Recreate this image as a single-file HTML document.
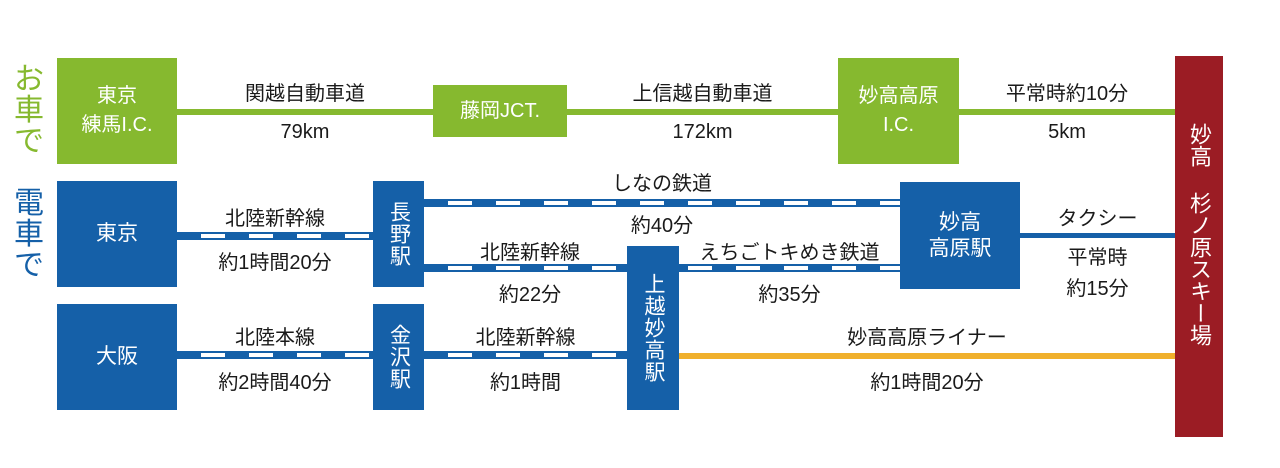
<!DOCTYPE html>
<html><head><meta charset="utf-8"><style>
body{margin:0;width:1280px;height:468px;background:#fff;position:relative;overflow:hidden;font-family:"Liberation Sans","Noto Sans CJK JP",sans-serif;color:#222}
div{position:absolute;box-sizing:border-box}
.g{background:#86b92f;color:#fff;display:flex;align-items:center;justify-content:center;text-align:center;font-size:20px;line-height:29px}
.b{background:#1560a8;color:#fff;display:flex;align-items:center;justify-content:center;text-align:center;font-size:21px;line-height:26px}
.v{writing-mode:vertical-rl;text-orientation:upright;letter-spacing:1px}
.rail{height:8px;border-top:2px solid #1560a8;border-bottom:2px solid #1560a8;background:repeating-linear-gradient(90deg,#1560a8 0 24px,#fff 24px 48px)}
.t{font-size:20px;text-align:center;white-space:nowrap;color:#1a1a1a}
</style></head><body>
<div style="left:12px;top:64px;font-size:30px;color:#86b92f;line-height:31px;width:34px;text-align:center">お<br>車<br>で</div>
<div style="left:12px;top:188px;font-size:30px;color:#1560a8;line-height:31px;width:34px;text-align:center">電<br>車<br>で</div>

<div style="left:177px;top:109px;width:1000px;height:6px;background:#86b92f"></div>
<div class="g" style="left:57px;top:58px;width:120px;height:106px">東京<br>練馬I.C.</div>
<div class="g" style="left:433px;top:85px;width:134px;height:52px">藤岡JCT.</div>
<div class="g" style="left:838px;top:58px;width:121px;height:106px">妙高高原<br>I.C.</div>
<div class="t" style="left:177px;top:77px;width:256px">関越自動車道</div>
<div class="t" style="left:177px;top:121px;width:256px">79km</div>
<div class="t" style="left:567px;top:77px;width:271px">上信越自動車道</div>
<div class="t" style="left:567px;top:121px;width:271px">172km</div>
<div class="t" style="left:959px;top:77px;width:216px">平常時約10分</div>
<div class="t" style="left:959px;top:121px;width:216px">5km</div>

<div class="rail" style="left:177px;top:232px;width:196px"></div>
<div class="rail" style="left:424px;top:199px;width:476px"></div>
<div class="rail" style="left:424px;top:264px;width:476px"></div>
<div class="rail" style="left:177px;top:351px;width:196px"></div>
<div class="rail" style="left:424px;top:351px;width:203px"></div>
<div style="left:1020px;top:233px;width:155px;height:5px;background:#1560a8"></div>
<div style="left:679px;top:353px;width:496px;height:6px;background:#f0b02c"></div>

<div class="b" style="left:57px;top:181px;width:120px;height:106px">東京</div>
<div class="b" style="left:57px;top:304px;width:120px;height:106px">大阪</div>
<div class="b v" style="left:373px;top:181px;width:51px;height:106px">長野駅</div>
<div class="b v" style="left:373px;top:304px;width:51px;height:106px">金沢駅</div>
<div class="b v" style="left:627px;top:246px;width:52px;height:164px">上越妙高駅</div>
<div class="b" style="left:900px;top:182px;width:120px;height:107px">妙高<br>高原駅</div>
<div style="left:1175px;top:56px;width:48px;height:381px;background:#9b1c24;color:#fff;font-size:22px;line-height:48px;padding-bottom:24px;display:flex;align-items:center;justify-content:center;writing-mode:vertical-rl;text-orientation:upright">妙高&nbsp;杉ノ原スキー場</div>

<div class="t" style="left:177px;top:202px;width:196px">北陸新幹線</div>
<div class="t" style="left:177px;top:246px;width:196px">約1時間20分</div>
<div class="t" style="left:177px;top:321px;width:196px">北陸本線</div>
<div class="t" style="left:177px;top:366px;width:196px">約2時間40分</div>
<div class="t" style="left:424px;top:167px;width:476px">しなの鉄道</div>
<div class="t" style="left:424px;top:209px;width:476px">約40分</div>
<div class="t" style="left:430px;top:236px;width:200px">北陸新幹線</div>
<div class="t" style="left:430px;top:278px;width:200px">約22分</div>
<div class="t" style="left:679px;top:236px;width:221px">えちごトキめき鉄道</div>
<div class="t" style="left:679px;top:278px;width:221px">約35分</div>
<div class="t" style="left:424px;top:321px;width:203px">北陸新幹線</div>
<div class="t" style="left:424px;top:366px;width:203px">約1時間</div>
<div class="t" style="left:1020px;top:202px;width:155px">タクシー</div>
<div class="t" style="left:1020px;top:243px;width:155px;line-height:31px">平常時<br>約15分</div>
<div class="t" style="left:679px;top:321px;width:496px">妙高高原ライナー</div>
<div class="t" style="left:679px;top:366px;width:496px">約1時間20分</div>
</body></html>
